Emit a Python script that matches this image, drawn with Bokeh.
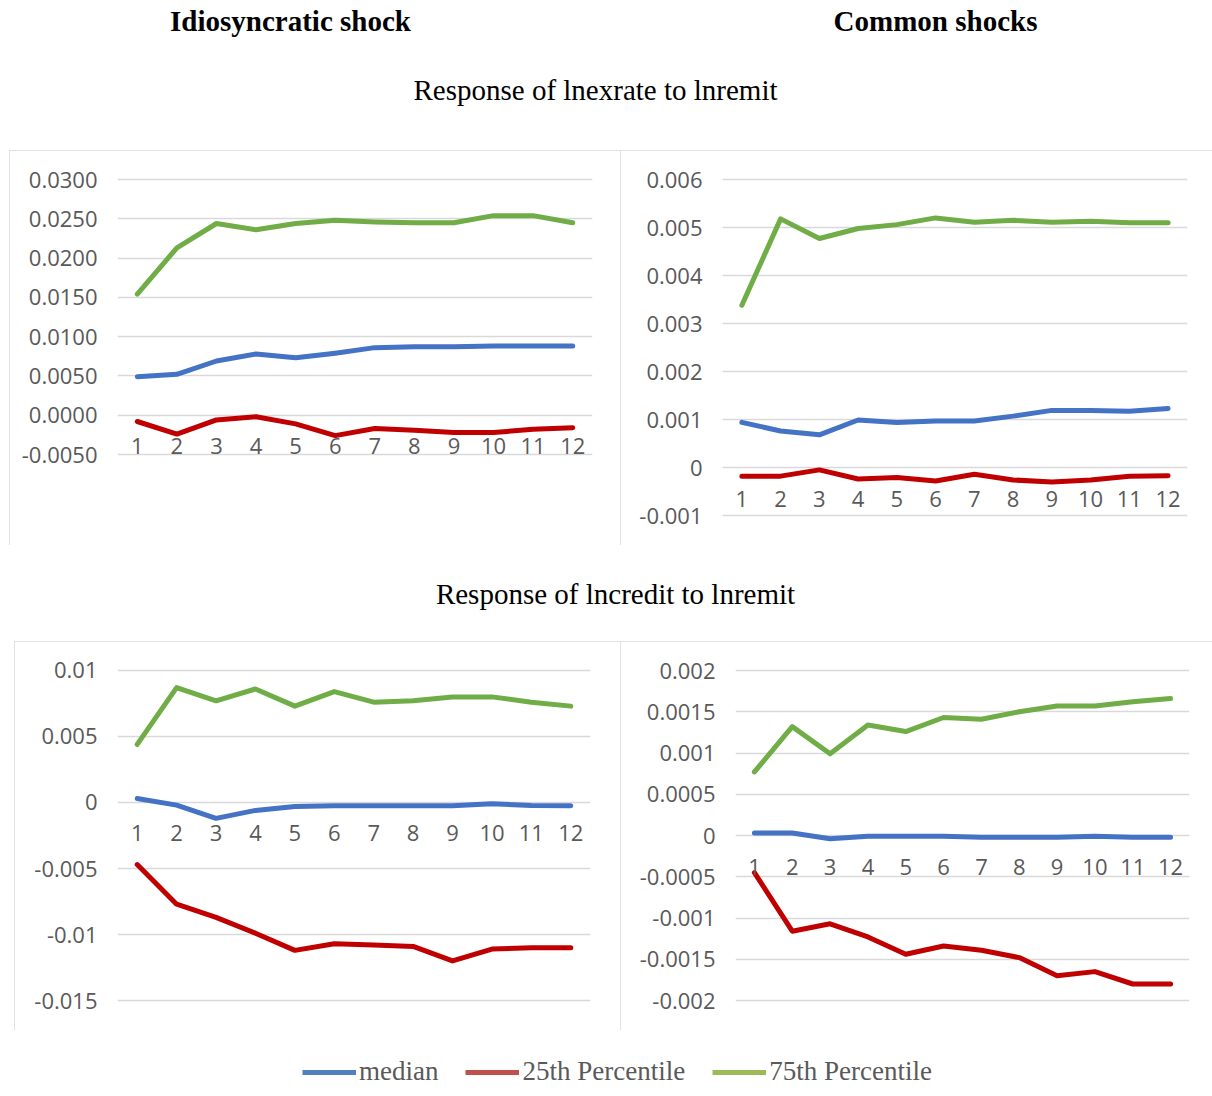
from bokeh.plotting import figure
from bokeh.layouts import column, row
from bokeh.models import Range1d, FixedTicker, Label, Legend, LegendItem, Spacer
from bokeh.embed import file_html
from bokeh.resources import INLINE

# Horizon (periods after the shock)
periods = list(range(1, 13))

# Response of lnexrate to lnremit -- idiosyncratic shock
exr_idio_median = [0.0049, 0.0052, 0.0069, 0.0078, 0.0073, 0.0079, 0.0086, 0.0087, 0.0087, 0.0088, 0.0088, 0.0088]
exr_idio_p25 = [-0.0008, -0.0024, -0.0006, -0.0002, -0.0011, -0.0026, -0.0017, -0.0019, -0.0022, -0.0022, -0.0018, -0.0016]
exr_idio_p75 = [0.0154, 0.0213, 0.0244, 0.0236, 0.0244, 0.0248, 0.0246, 0.0245, 0.0245, 0.0254, 0.0254, 0.0245]

# Response of lnexrate to lnremit -- common shocks
exr_comm_median = [0.00094, 0.00076, 0.00068, 0.00099, 0.00094, 0.00097, 0.00097, 0.00107, 0.00119, 0.00119, 0.00117, 0.00123]
exr_comm_p25 = [-0.00018, -0.00018, -0.00005, -0.00024, -0.00021, -0.00028, -0.00014, -0.00026, -0.00030, -0.00026, -0.00018, -0.00017]
exr_comm_p75 = [0.00338, 0.00518, 0.00477, 0.00498, 0.00506, 0.00520, 0.00511, 0.00515, 0.00511, 0.00513, 0.00510, 0.00510]

# Response of lncredit to lnremit -- idiosyncratic shock
crd_idio_median = [0.0003, -0.0002, -0.0012, -0.0006, -0.0003, -0.00025, -0.00025, -0.00025, -0.00025, -0.0001, -0.00023, -0.00025]
crd_idio_p25 = [-0.0047, -0.0077, -0.0087, -0.0099, -0.0112, -0.0107, -0.0108, -0.0109, -0.0120, -0.0111, -0.0110, -0.0110]
crd_idio_p75 = [0.0044, 0.0087, 0.0077, 0.0086, 0.0073, 0.0084, 0.0076, 0.0077, 0.0080, 0.0080, 0.0076, 0.0073]

# Response of lncredit to lnremit -- common shocks
crd_comm_median = [0.00003, 0.00003, -0.00004, -0.00001, -0.00001, -0.00001, -0.00002, -0.00002, -0.00002, -0.00001, -0.00002, -0.00002]
crd_comm_p25 = [-0.00045, -0.00116, -0.00107, -0.00123, -0.00144, -0.00134, -0.00139, -0.00148, -0.00170, -0.00165, -0.00180, -0.00180]
crd_comm_p75 = [0.00077, 0.00132, 0.00099, 0.00134, 0.00126, 0.00143, 0.00141, 0.00150, 0.00157, 0.00157, 0.00162, 0.00166]

# Value-axis ticks and their labels
exr_idio_ticks = [-0.005, 0.0, 0.005, 0.01, 0.015, 0.02, 0.025, 0.03]
exr_idio_labels = ["-0.0050", "0.0000", "0.0050", "0.0100", "0.0150", "0.0200", "0.0250", "0.0300"]
exr_comm_ticks = [-0.001, 0.0, 0.001, 0.002, 0.003, 0.004, 0.005, 0.006]
exr_comm_labels = ["-0.001", "0", "0.001", "0.002", "0.003", "0.004", "0.005", "0.006"]
crd_idio_ticks = [-0.015, -0.01, -0.005, 0.0, 0.005, 0.01]
crd_idio_labels = ["-0.015", "-0.01", "-0.005", "0", "0.005", "0.01"]
crd_comm_ticks = [-0.002, -0.0015, -0.001, -0.0005, 0.0, 0.0005, 0.001, 0.0015, 0.002]
crd_comm_labels = ["-0.002", "-0.0015", "-0.001", "-0.0005", "0", "0.0005", "0.001", "0.0015", "0.002"]

series_names = ["median", "25th Percentile", "75th Percentile"]
line_colors = ["#4472C4", "#C00000", "#70AD47"]
legend_colors = ["#4F81BD", "#C0504D", "#9BBB59"]

AXIS_FONT = "Open Sans"
AXIS_SIZE = "22px"
TEXT_GRAY = "#595959"
GRID_GRAY = "#d9d9d9"
PAD = 3          # px of room above the top gridline so it is not clipped
BOTTOM = 27      # frame bottom border, same for every panel so rows line up


def make_panel(w, h, left, right, top_tick_px, low_tick_px, ticks, labels, med, p25, p75):
    """top_tick_px / low_tick_px: distance of the highest / lowest gridline from the panel top."""
    ppu = (low_tick_px - top_tick_px) / (ticks[-1] - ticks[0])
    y_end = ticks[-1] + PAD / ppu
    y_start = ticks[0] - (h - BOTTOM - low_tick_px) / ppu
    p = figure(width=w, height=h, output_backend="svg", toolbar_location=None,
               x_range=Range1d(0.5, 12.5), y_range=Range1d(y_start, y_end),
               min_border_left=left, min_border_right=right,
               min_border_top=top_tick_px - PAD, min_border_bottom=BOTTOM,
               background_fill_color="white", border_fill_color="white",
               outline_line_color=None,
               styles={"outline": "2px solid #d9d9d9", "outline-offset": "-2px"})

    # value axis
    yax = p.yaxis[0]
    yax.ticker = FixedTicker(ticks=ticks)
    yax.major_label_overrides = {t: l for t, l in zip(ticks, labels)}
    yax.axis_line_color = None
    yax.major_tick_line_color = None
    yax.minor_tick_line_color = None
    yax.major_tick_out = 0
    yax.major_tick_in = 0
    yax.major_label_standoff = 20
    yax.major_label_text_font = AXIS_FONT
    yax.major_label_text_font_size = AXIS_SIZE
    yax.major_label_text_color = TEXT_GRAY

    # category axis sits on the zero line
    xax = p.xaxis[0]
    xax.ticker = FixedTicker(ticks=periods)
    xax.fixed_location = 0
    xax.axis_line_color = None
    xax.major_tick_line_color = None
    xax.minor_tick_line_color = None
    xax.major_label_standoff = 17
    xax.major_label_text_font = AXIS_FONT
    xax.major_label_text_font_size = AXIS_SIZE
    xax.major_label_text_color = TEXT_GRAY

    p.xgrid.visible = False
    p.ygrid.grid_line_color = GRID_GRAY
    p.ygrid.grid_line_width = 1.5

    for ys, c in zip([med, p25, p75], line_colors):
        p.line(periods, ys, line_color=c, line_width=5,
               line_cap="round", line_join="round")
    return p


def text_strip(h, labels):
    s = figure(width=1212, height=h, output_backend="svg", toolbar_location=None,
               x_range=Range1d(0, 1212), y_range=Range1d(h, 0), min_border=0,
               x_axis_location=None, y_axis_location=None, outline_line_color=None,
               background_fill_color="white", border_fill_color="white")
    s.grid.visible = False
    for txt, x, y, size, style in labels:
        s.add_layout(Label(x=x, y=y, text=txt, text_align="center", text_baseline="middle",
                           text_font="Liberation Serif", text_font_size=size,
                           text_font_style=style, text_color="black"))
    return s


header = text_strip(150, [
    ("Idiosyncratic shock", 290, 20, "29px", "bold"),
    ("Common shocks", 935, 20, "29px", "bold"),
    ("Response of lnexrate to lnremit", 595, 89, "29px", "normal"),
])
middle = text_strip(96, [
    ("Response of lncredit to lnremit", 615, 48, "29px", "normal"),
])

f1 = make_panel(611, 395, 108, 28, 29, 304, exr_idio_ticks, exr_idio_labels,
                exr_idio_median, exr_idio_p25, exr_idio_p75)
f2 = make_panel(592, 395, 102, 25, 29, 365, exr_comm_ticks, exr_comm_labels,
                exr_comm_median, exr_comm_p25, exr_comm_p75)
f3 = make_panel(606, 389, 103, 30, 28, 359, crd_idio_ticks, crd_idio_labels,
                crd_idio_median, crd_idio_p25, crd_idio_p75)
f4 = make_panel(592, 389, 115, 23, 29, 359, crd_comm_ticks, crd_comm_labels,
                crd_comm_median, crd_comm_p25, crd_comm_p75)

# shared legend strip: one-point proxy renderers only carry the swatch styles
leg = figure(width=1212, height=66, output_backend="svg", toolbar_location=None,
             x_range=Range1d(0, 1), y_range=Range1d(0, 1), min_border=0,
             x_axis_location=None, y_axis_location=None, outline_line_color=None,
             background_fill_color="white", border_fill_color="white")
leg.grid.visible = False
items = []
for name, c in zip(series_names, legend_colors):
    r = leg.line(x=[0.0], y=[float("nan")], line_color=c, line_width=5)
    items.append(LegendItem(label=name, renderers=[r]))
legend = Legend(items=items, orientation="horizontal", location=(302, 9),
                glyph_width=54, glyph_height=30, label_height=30, label_standoff=3,
                spacing=27, padding=0, margin=0, border_line_color=None,
                background_fill_alpha=0, label_text_font="Liberation Serif",
                label_text_font_size="27px", label_text_color=TEXT_GRAY)
leg.add_layout(legend, "center")

layout = column(
    header,
    row(Spacer(width=9, height=395), f1, f2),
    middle,
    row(Spacer(width=14, height=389), f3, f4),
    leg,
)

open("out.html", "w").write(file_html(layout, INLINE))
